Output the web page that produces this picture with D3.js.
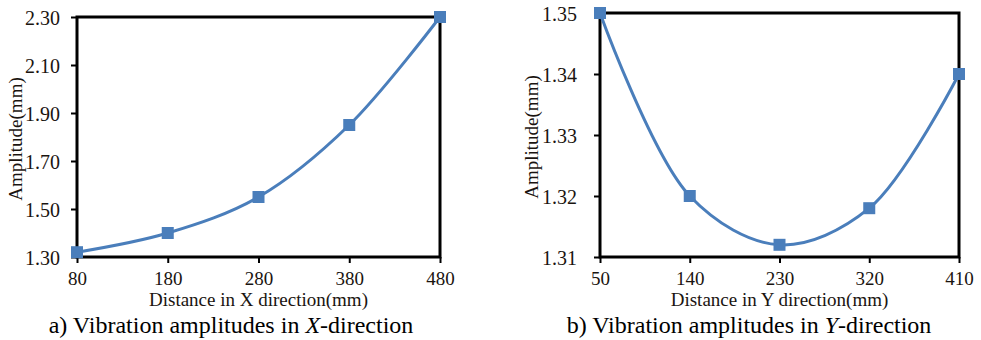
<!DOCTYPE html>
<html>
<head>
<meta charset="utf-8">
<script src="https://cdn.jsdelivr.net/npm/d3@7"></script>
<style>
  body { margin: 0; background: #fff; }
</style>
</head>
<body>
<div id="chart"></div>
<script>
const width = 981;
const height = 340;
const serif = "Liberation Serif";

// panel a) X direction
const xDistances = [80, 180, 280, 380, 480];
const xAmplitudes = [1.32, 1.40, 1.55, 1.85, 2.30];
const xYTicks = [1.30, 1.50, 1.70, 1.90, 2.10, 2.30];

// panel b) Y direction
const yDistances = [50, 140, 230, 320, 410];
const yAmplitudes = [1.35, 1.32, 1.312, 1.318, 1.34];
const yYTicks = [1.31, 1.32, 1.33, 1.34, 1.35];

const blue = "#4a7ebb";
const ink = "#1a1410";

let svg = d3.select("#chart").append("svg")
    .attr("width", width)
    .attr("height", height);

function drawPanel(opts) {
    let g = svg.append("g");
    let x = d3.scaleLinear()
        .domain(d3.extent(opts.xs))
        .range([opts.left, opts.right]);
    let y = d3.scaleLinear()
        .domain(d3.extent(opts.yTicks))
        .range([opts.bottom, opts.top]);

    // frame
    g.append("rect")
        .attr("x", opts.left).attr("y", opts.top)
        .attr("width", opts.right - opts.left)
        .attr("height", opts.bottom - opts.top)
        .attr("fill", "none")
        .attr("stroke", "#000")
        .attr("stroke-width", 3);

    let xAxis = g.append("g")
        .attr("transform", `translate(0,${opts.bottom})`)
        .call(d3.axisBottom(x).tickValues(opts.xs).tickSize(6).tickPadding(8.5).tickFormat(d3.format("d")));
    let yAxis = g.append("g")
        .attr("transform", `translate(${opts.left},0)`)
        .call(d3.axisLeft(y).tickValues(opts.yTicks).tickSize(6).tickPadding(opts.yPad).tickFormat(d3.format(".2f")));
    [xAxis, yAxis].forEach(a => {
        a.attr("font-family", serif).attr("font-size", 19);
        a.select(".domain").remove();
        a.selectAll(".tick line").attr("stroke", "#000").attr("stroke-width", 2);
        a.selectAll(".tick text")
            .attr("fill", ink)
            .attr("font-family", serif)
            .attr("font-size", 19);
    });
    yAxis.selectAll(".tick text").attr("font-size", 20).attr("dy", "0.35em");

    let pts = opts.xs.map((d, i) => [d, opts.ys[i]]);
    let line = d3.line()
        .x(d => x(d[0]))
        .y(d => y(d[1]))
        .curve(d3.curveCatmullRom.alpha(0.5));
    g.append("path")
        .datum(pts)
        .attr("d", line)
        .attr("fill", "none")
        .attr("stroke", blue)
        .attr("stroke-width", 3);

    g.selectAll(".marker")
        .data(pts)
        .enter()
        .append("rect")
        .classed("marker", true)
        .attr("x", d => x(d[0]) - 6)
        .attr("y", d => y(d[1]) - 6)
        .attr("width", 12)
        .attr("height", 12)
        .attr("fill", blue);

    // axis titles
    g.append("text")
        .attr("x", (opts.left + opts.right) / 2)
        .attr("y", 306)
        .attr("text-anchor", "middle")
        .attr("fill", ink)
        .attr("font-family", serif)
        .attr("font-size", 19)
        .text(opts.xTitle);
    g.append("text")
        .attr("transform", `translate(${opts.yTitleX},${opts.yTitleY}) rotate(-90)`)
        .attr("text-anchor", "middle")
        .attr("dy", "0.35em")
        .attr("fill", ink)
        .attr("font-family", serif)
        .attr("font-size", 19)
        .text(opts.yTitle);

    // caption
    let cap = g.append("text")
        .attr("x", opts.capX)
        .attr("y", 333)
        .attr("text-anchor", "middle")
        .attr("fill", "#000")
        .attr("font-family", serif)
        .attr("font-size", 24);
    cap.append("tspan").text(opts.capPre);
    cap.append("tspan").attr("font-style", "italic").text(opts.capVar);
    cap.append("tspan").text("-direction");
}

drawPanel({
    xs: xDistances, ys: xAmplitudes, yTicks: xYTicks, yPad: 11,
    left: 77, right: 440, top: 17, bottom: 257,
    xTitle: "Distance in X direction(mm)",
    yTitle: "Amplitude(mm)", yTitleX: 15, yTitleY: 139,
    capX: 231, capPre: "a) Vibration amplitudes in ", capVar: "X"
});

drawPanel({
    xs: yDistances, ys: yAmplitudes, yTicks: yYTicks, yPad: 17,
    left: 600, right: 959, top: 13, bottom: 257,
    xTitle: "Distance in Y direction(mm)",
    yTitle: "Amplitude(mm)", yTitleX: 531, yTitleY: 137,
    capX: 749, capPre: "b) Vibration amplitudes in ", capVar: "Y"
});
</script>
</body>
</html>
